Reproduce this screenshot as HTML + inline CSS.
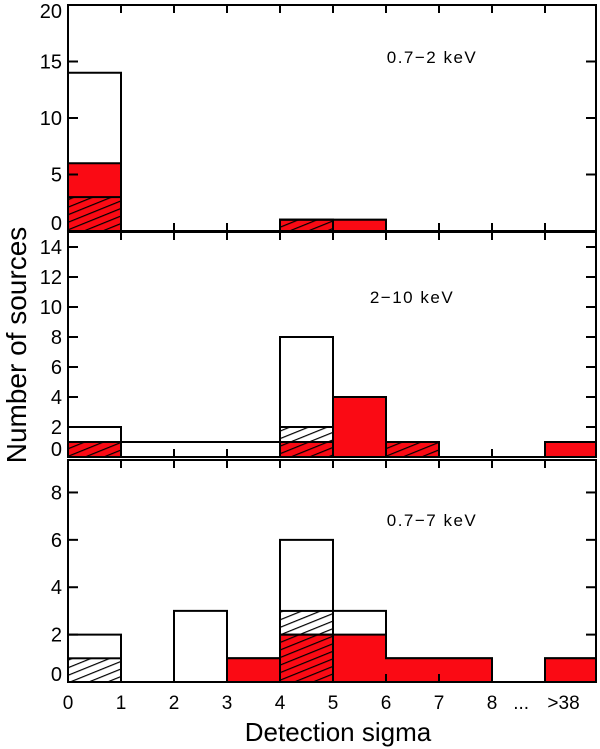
<!DOCTYPE html>
<html><head><meta charset="utf-8"><style>
body{margin:0;background:#fff}
svg{display:block;font-family:"Liberation Sans",sans-serif}
</style></head><body>
<svg id="c" width="600" height="749">
<defs>
<pattern id="hatch" patternUnits="userSpaceOnUse" width="7" height="7" patternTransform="rotate(68)">
<line x1="0" y1="0" x2="0" y2="7" stroke="#000" stroke-width="2.4"/>
</pattern>
</defs>
</svg>
<script>
const bins = [0,1,2,3,4,5,6,7,8,9];
const xTickLabels = ["0","1","2","3","4","5","6","7","8"];
const bandLabels = ["0.7\u22122  keV","2\u221210  keV","0.7\u22127  keV"];
const totalTop = [14,0,0,0,1,1,0,0,0,0];
const hatchTop = [3,0,0,0,1,0,0,0,0,0];
const redTop = [6,0,0,0,1,1,0,0,0,0];
const redHatchTop = [3,0,0,0,1,0,0,0,0,0];
const totalMid = [2,1,1,1,8,4,1,0,0,1];
const hatchMid = [1,0,0,0,2,0,1,0,0,0];
const redMid = [1,0,0,0,1,4,1,0,0,1];
const redHatchMid = [1,0,0,0,1,0,1,0,0,0];
const totalBot = [2,0,3,1,6,3,1,1,0,1];
const hatchBot = [1,0,0,0,3,0,0,0,0,0];
const redBot = [0,0,0,1,2,2,1,1,0,1];
const redHatchBot = [0,0,0,0,2,0,0,0,0,0];
const yTicksTop = [0,5,10,15,20];
const yTicksMid = [0,2,4,6,8,10,12,14];
const yTicksBot = [0,2,4,6,8];

const svg = document.getElementById('c');
const NS = 'http://www.w3.org/2000/svg';
const X0 = 68, XS = 53, XR = 596;
const xs = v => Math.min(X0 + v*XS, XR);
function mk(tag, attrs, parent){const e=document.createElementNS(NS,tag);for(const k in attrs)e.setAttribute(k,attrs[k]);(parent||svg).appendChild(e);return e;}
function stepPath(vals, ys, base){
  let d='M'+xs(0)+','+base;
  bins.forEach(i=>{ d+=' L'+xs(i)+','+ys(vals[i])+' L'+xs(i+1)+','+ys(vals[i]); });
  d+=' L'+xs(10)+','+base+' Z';
  return d;
}

const panels = [
 {name:'panel-0.7-2kev', top:5, base:231, max:20, total:totalTop, hatch:hatchTop, red:redTop, rh:redHatchTop, ticks:yTicksTop, label:bandLabels[0], lx:432, ly:63},
 {name:'panel-2-10kev', top:232, base:457, max:15, total:totalMid, hatch:hatchMid, red:redMid, rh:redHatchMid, ticks:yTicksMid, label:bandLabels[1], lx:412, ly:303},
 {name:'panel-0.7-7kev', top:460, base:682, max:9.37, total:totalBot, hatch:hatchBot, red:redBot, rh:redHatchBot, ticks:yTicksBot, label:bandLabels[2], lx:432, ly:526}
];

panels.forEach(p=>{
  const g = mk('g',{});
  
  
  const ys = v => p.base - v*(p.base-p.top)/p.max;
  const tp=mk('path',{d:stepPath(p.total,ys,p.base),fill:'#fff',stroke:'#000','stroke-width':2,'stroke-linejoin':'miter'},g);
  
  
  bins.forEach(i=>{
    if(p.hatch[i]>0){
      const r=mk('rect',{x:xs(i),y:ys(p.hatch[i]),width:XS,height:p.base-ys(p.hatch[i]),fill:'url(#hatch)',stroke:'#000','stroke-width':2},g);
      
      
    }
  });
  const rp=mk('path',{d:stepPath(p.red,ys,p.base),fill:'#fa0a14',stroke:'#000','stroke-width':2},g);
  
  
  bins.forEach(i=>{
    if(p.rh[i]>0){
      const r=mk('rect',{x:xs(i),y:ys(p.rh[i]),width:XS,height:p.base-ys(p.rh[i]),fill:'url(#hatch)',stroke:'#000','stroke-width':2},g);
      
      
    }
  });
  const f=mk('rect',{x:X0,y:p.top,width:XR-X0,height:p.base-p.top,fill:'none',stroke:'#000','stroke-width':2},g);
  
  
  for(let i=1;i<=9;i++){
    mk('line',{x1:xs(i),x2:xs(i),y1:p.base,y2:p.base-8,stroke:'#000','stroke-width':2},g);
    mk('line',{x1:xs(i),x2:xs(i),y1:p.top,y2:p.top+8,stroke:'#000','stroke-width':2},g);
  }
  p.ticks.forEach(t=>{
    const y=ys(t);
    if(t>0 && y>p.top+2){
      mk('line',{x1:X0,x2:X0+10,y1:y,y2:y,stroke:'#000','stroke-width':2},g);
      mk('line',{x1:XR,x2:XR-10,y1:y,y2:y,stroke:'#000','stroke-width':2},g);
    }
    let by = y+7;
    if(t===0) by = p.base-1;
    if(by < p.top+13) by = p.top+13;
    const tl=mk('text',{x:X0-6,y:by,'text-anchor':'end','font-size':20},g);
    tl.textContent=t;
    
    
  });
  const lb=mk('text',{x:p.lx,y:p.ly,'text-anchor':'middle','font-size':17,'letter-spacing':1.5},g);
  lb.textContent=p.label;
  
  
});

xTickLabels.forEach((s,i)=>{
  const t=mk('text',{x:xs(i),y:709,'text-anchor':'middle','font-size':19});
  t.textContent=s;
  
  
});
const d1=mk('text',{x:xs(8.55),y:709,'text-anchor':'middle','font-size':19});d1.textContent='...';


const d2=mk('text',{x:xs(9.35),y:709,'text-anchor':'middle','font-size':19});d2.textContent='>38';


const xt=mk('text',{x:338,y:741,'text-anchor':'middle','font-size':26});xt.textContent='Detection sigma';


const yt=mk('text',{x:0,y:0,'text-anchor':'middle','font-size':28,transform:'translate(26,345) rotate(-90)'});yt.textContent='Number of sources';


</script>
</body></html>
